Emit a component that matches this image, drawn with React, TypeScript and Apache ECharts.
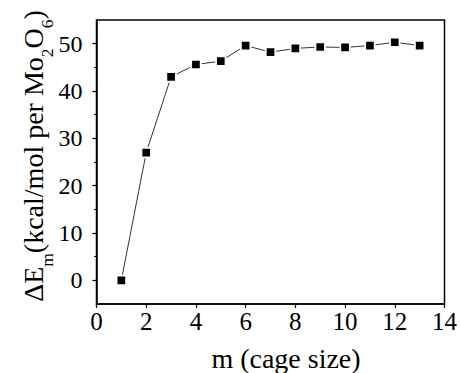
import React, { useEffect, useRef } from "react";
import * as echarts from "echarts";

const cageSizes = [1, 2, 3, 4, 5, 6, 7, 8, 9, 10, 11, 12, 13];
const deltaE = [0, 27.0, 43.0, 45.6, 46.3, 49.6, 48.2, 49.0, 49.3, 49.2, 49.6, 50.3, 49.6];
const yMajorTicks = [0, 10, 20, 30, 40, 50];
const yMinorTicks = [5, 15, 25, 35, 45];
const xTitle = "m (cage size)";
// y title pieces: [text, isSubscript]
const yTitleParts: [string, boolean][] = [
  ["ΔE", false],
  ["m", true],
  ["(kcal/mol per Mo", false],
  ["2", true],
  ["O", false],
  ["6", true],
  [")", false],
];

const FONT = "Liberation Serif";
const MAIN_SIZE = 28;
const SUB_SIZE = 17.5;

function measure(text: string, size: number): number {
  const c = document.createElement("canvas").getContext("2d");
  if (!c) return text.length * size * 0.5;
  c.font = `${size}px "${FONT}", serif`;
  return c.measureText(text).width;
}

export default function App() {
  const ref = useRef<HTMLDivElement>(null);
  useEffect(() => {
    document.body.style.margin = "0";
    if (!ref.current) return;
    const chart = echarts.init(ref.current, undefined, { renderer: "svg" });
    const data = cageSizes.map((m, i) => [m, deltaE[i]]);

    const widths = yTitleParts.map(([t, sub]) => measure(t, sub ? SUB_SIZE : MAIN_SIZE));
    const total = widths.reduce((a, b) => a + b, 0);
    let cursor = -total / 2;
    const titleChildren = yTitleParts.map(([t, sub], i) => {
      const el = {
        type: "text",
        x: cursor,
        y: sub ? 14 : 0,
        style: {
          text: t,
          align: "left",
          verticalAlign: "middle",
          fill: "#000",
          fontFamily: FONT,
          fontSize: sub ? SUB_SIZE : MAIN_SIZE,
        },
      };
      cursor += widths[i];
      return el;
    });

    chart.setOption({
      animation: false,
      backgroundColor: "#fff",
      textStyle: { fontFamily: FONT },
      grid: {
        left: 96.5,
        right: 14.5,
        top: 20,
        bottom: 69,
        show: true,
        borderColor: "#000",
        borderWidth: 1.5,
        backgroundColor: "transparent",
      },
      xAxis: {
        type: "value",
        min: 0,
        max: 14,
        interval: 2,
        axisLine: { show: true, onZero: false, lineStyle: { color: "#000", width: 1.5 } },
        axisTick: { show: true, inside: false, length: 4, lineStyle: { color: "#000", width: 1.2 } },
        axisLabel: { color: "#000", fontFamily: FONT, fontSize: 25, margin: 5 },
        splitLine: { show: false },
      },
      yAxis: [
        {
          type: "value",
          min: -5,
          max: 55,
          axisLine: { show: true, onZero: false, lineStyle: { color: "#000", width: 1.5 } },
          axisTick: {
            show: true,
            inside: false,
            length: 4,
            customValues: yMajorTicks,
            lineStyle: { color: "#000", width: 1.2 },
          },
          axisLabel: {
            color: "#000",
            fontFamily: FONT,
            fontSize: 24,
            margin: 14,
            customValues: yMajorTicks,
          },
          splitLine: { show: false },
        },
        {
          type: "value",
          min: -5,
          max: 55,
          position: "left",
          axisLine: { show: false },
          axisTick: {
            show: true,
            inside: false,
            length: 2.5,
            customValues: yMinorTicks,
            lineStyle: { color: "#000", width: 1 },
          },
          axisLabel: { show: false },
          splitLine: { show: false },
        },
      ],
      series: [
        {
          type: "line",
          data,
          yAxisIndex: 0,
          symbol: "rect",
          symbolSize: 9.5,
          lineStyle: { color: "#333", width: 1 },
          itemStyle: { color: "#000", borderColor: "#fff", borderWidth: 1.8 },
        },
      ],
      graphic: [
        {
          type: "group",
          x: 33,
          y: 156,
          rotation: Math.PI / 2,
          children: titleChildren,
        },
        {
          type: "text",
          x: 286,
          y: 358,
          style: {
            text: xTitle,
            align: "center",
            verticalAlign: "middle",
            fill: "#000",
            fontFamily: FONT,
            fontSize: 28,
          },
        },
      ],
    });
    return () => chart.dispose();
  }, []);
  return <div ref={ref} style={{ width: 460, height: 373 }} />;
}
